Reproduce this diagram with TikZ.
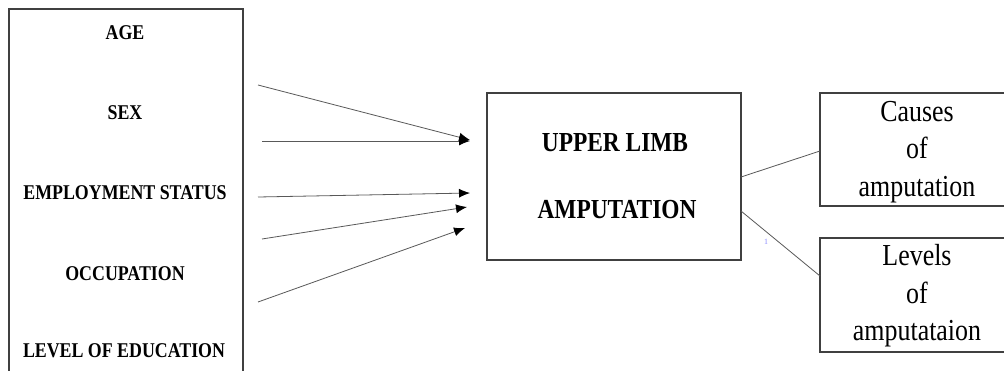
\documentclass[tikz,border=0pt]{standalone}
\usepackage{fontspec}
\setmainfont{Liberation Serif}
\newfontfamily\cond[FakeStretch=0.85]{Liberation Serif}
\usetikzlibrary{arrows.meta}
\begin{document}
\begin{tikzpicture}[x=1pt,y=-1pt,
  box/.style={draw=black!75, line width=1.2pt, inner sep=0},
  factor/.style={font=\cond\bfseries\fontsize{21}{25}\selectfont, inner sep=0},
  midtext/.style={font=\cond\bfseries\fontsize{27.5}{32}\selectfont, inner sep=0},
  outtext/.style={font=\cond\fontsize{30.5}{37.5}\selectfont, align=center, inner sep=0},
  arr/.style={draw=black!65, line width=0.8pt, -{Latex[length=11pt,width=9pt,fill=black,color=black]}},
  link/.style={draw=black!65, line width=0.8pt}
]
\useasboundingbox (0,0) rectangle (1004,370);
\clip (0,0) rectangle (1004,370);
\fill[white] (0,0) rectangle (1004,370);

% left box of factors
\node[box, minimum width=234pt, minimum height=382pt] (lbox) at (126,200) {};
\node[factor] (age) at (125,33) {AGE};
\node[factor] (sex) at (125,113) {SEX};
\node[factor] (emp) at (125,193) {EMPLOYMENT STATUS};
\node[factor] (occ) at (125,274) {OCCUPATION};
\node[factor] (edu) at (124,351) {LEVEL OF EDUCATION};

% central box
\node[box, minimum width=254pt, minimum height=167pt] (mid) at (614,176.5) {};
\node[midtext] (t1) at (615,143) {UPPER LIMB};
\node[midtext] (t2) at (617,210) {AMPUTATION};

% outcome boxes
\node[box, minimum width=200pt, minimum height=113pt] (cbox) at (920,149.5) {};
\node[outtext] (ctext) at (917,152) {Causes\\of\\amputation};
\node[box, minimum width=200pt, minimum height=114pt] (lvbox) at (920,295) {};
\node[outtext] (lvtext) at (917,296) {Levels\\of\\amputataion};

% arrow end points
\coordinate (s1) at (258,85);   \coordinate (e1) at (470,140);
\coordinate (s2) at (262,141);  \coordinate (e2) at (470,141);
\coordinate (s3) at (258,197);  \coordinate (e3) at (470,193);
\coordinate (s4) at (262,239);  \coordinate (e4) at (467,207);
\coordinate (s5) at (258,302);  \coordinate (e5) at (465,228);
\draw[arr] (s1) -- (e1);
\draw[arr] (s2) -- (e2);
\draw[arr] (s3) -- (e3);
\draw[arr] (s4) -- (e4);
\draw[arr] (s5) -- (e5);

% links to outcomes
\coordinate (m1) at (741,177);  \coordinate (c1) at (820,151);
\coordinate (m2) at (741,211);  \coordinate (c2) at (820,276);
\draw[link] (m1) -- (c1);
\draw[link] (m2) -- (c2);
\node[font=\fontsize{8}{9}\selectfont, text=blue!45, inner sep=0] (one) at (766,242) {1};
\end{tikzpicture}
\end{document}
